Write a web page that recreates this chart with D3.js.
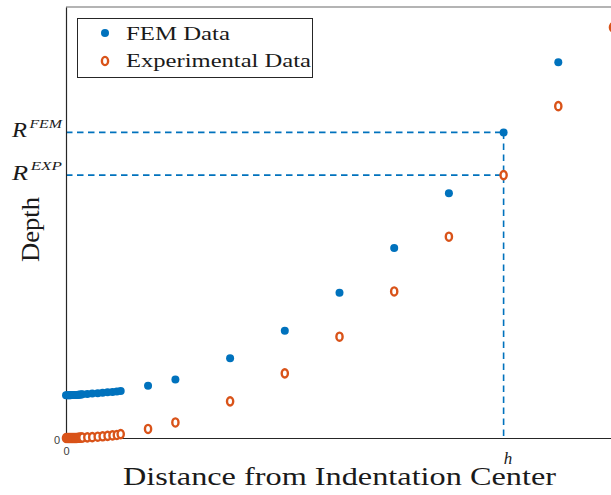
<!DOCTYPE html>
<html>
<head>
<meta charset="utf-8">
<script src="https://cdn.jsdelivr.net/npm/d3@7"></script>
<style>
  html, body { margin: 0; padding: 0; background: #fff; }
  svg { display: block; }
</style>
</head>
<body>
<svg id="chart" width="611" height="495"></svg>
<script>
// Radial distance from the indentation center (shared by both series)
const distance = [0, 0.02, 0.04, 0.06, 0.08, 0.10, 0.12, 0.14, 0.16, 0.18, 0.20, 0.22,
  0.24, 0.26, 0.28, 0.30, 0.39, 0.48, 0.58, 0.67, 0.76, 0.85, 0.93, 1.0,
  1.5, 2, 3, 4, 5, 6, 7, 8, 9, 10];

// Simulated depth profile
const femDepth = [0.99, 0.99, 0.99, 0.99, 0.99, 0.995, 0.995, 0.995, 1.0, 1.0, 1.0, 1.005,
  1.005, 1.01, 1.01, 1.015, 1.02, 1.03, 1.04, 1.05, 1.06, 1.07, 1.08, 1.09,
  1.21, 1.36, 1.85, 2.49, 3.37, 4.41, 5.68, 7.09, 8.72];

// Measured depth profile
const expDepth = [0, 0, 0, 0, 0, 0, 0, 0, 0, 0, 0, 0.005,
  0.005, 0.01, 0.01, 0.01, 0.015, 0.02, 0.03, 0.04, 0.05, 0.06, 0.07, 0.09,
  0.21, 0.36, 0.85, 1.50, 2.35, 3.40, 4.67, 6.10, 7.70, 9.53];

// Reference position h and the depths read there
const hDistance = 8;
const rFem = 7.09;
const rExp = 6.10;

const xTickValues = [0, hDistance];
const xTickLabels = ["0", "h"];
const yTickValues = [0, rExp, rFem];
const yTickLabels = [["0", ""], ["R", "EXP"], ["R", "FEM"]];

const seriesNames = ["FEM Data", "Experimental Data"];

const BLUE = "#0072BD";
const ORANGE = "#D95319";
const TEXT = "#1a1a1a";
const SERIF = "'Liberation Serif', 'Times New Roman', serif";
const SANS = "'Liberation Sans', Arial, sans-serif";

const svg = d3.select("#chart");

const x = d3.scaleLinear().domain([0, 11]).range([66, 667.7]);
const y = d3.scaleLinear().domain([0, 10]).range([438, 7]);

// Box: grey top edge
svg.append("line")
  .attr("x1", 66).attr("x2", 700)
  .attr("y1", 7).attr("y2", 7)
  .attr("stroke", "#9b9b9b").attr("stroke-width", 1.6);

// Guide lines marking h, R^FEM and R^EXP
const dash = "6.5,4.5";
const guides = svg.append("g")
  .attr("stroke", BLUE).attr("stroke-width", 1.6)
  .attr("stroke-dasharray", dash).attr("fill", "none");
guides.append("line")
  .attr("x1", x(0)).attr("x2", x(hDistance))
  .attr("y1", y(rFem)).attr("y2", y(rFem));
guides.append("line")
  .attr("x1", x(0)).attr("x2", x(hDistance))
  .attr("y1", y(rExp)).attr("y2", y(rExp));
guides.append("line")
  .attr("x1", x(hDistance)).attr("x2", x(hDistance))
  .attr("y1", y(rFem)).attr("y2", y(0));

// Axes
const xAxis = d3.axisBottom(x)
  .tickValues(xTickValues)
  .tickSizeInner(0).tickSizeOuter(0)
  .tickPadding(8)
  .tickFormat((d, i) => xTickLabels[i]);
const gx = svg.append("g")
  .attr("transform", `translate(0,${y(0)})`)
  .call(xAxis);
gx.select(".domain").attr("stroke", "#262626").attr("stroke-width", 1.2);
gx.selectAll(".tick text")
  .attr("fill", TEXT)
  .each(function (d, i) {
    const t = d3.select(this);
    if (i === 0) {
      t.style("font-family", SANS).style("font-size", "11px").attr("fill", "#404040")
        .attr("dy", "0.71em").attr("y", 9);
    } else {
      t.style("font-family", SERIF).style("font-size", "17px").style("font-style", "italic")
        .attr("dx", 4).attr("y", 14).attr("dy", "0.71em");
    }
  });

const yAxis = d3.axisLeft(y)
  .tickValues(yTickValues)
  .tickSizeInner(0).tickSizeOuter(0)
  .tickPadding(5)
  .tickFormat(() => "");
const gy = svg.append("g")
  .attr("transform", `translate(${x(0)},0)`)
  .call(yAxis);
gy.select(".domain").attr("stroke", "#262626").attr("stroke-width", 1.2);
gy.selectAll(".tick text").each(function (d, i) {
  const t = d3.select(this);
  const [base, sup] = yTickLabels[i];
  if (!sup) {
    t.text(base).style("font-family", SANS).style("font-size", "11px")
      .attr("fill", "#404040").attr("x", -6).attr("y", 2).attr("dy", "0.35em");
  } else {
    t.attr("x", -4).attr("dy", "0.4em").attr("fill", TEXT)
      .attr("textLength", 50).attr("lengthAdjust", "spacingAndGlyphs")
      .style("font-family", SERIF).style("font-style", "italic");
    t.append("tspan").text(base).style("font-size", "20px");
    t.append("tspan").text(sup).style("font-size", "13px")
      .attr("dy", "-0.7em").attr("dx", "2");
  }
});

// Axis titles
svg.append("text")
  .attr("x", 123).attr("y", 485)
  .attr("textLength", 433).attr("lengthAdjust", "spacingAndGlyphs")
  .style("font-family", SERIF).style("font-size", "25px")
  .attr("fill", TEXT)
  .text("Distance from Indentation Center");

svg.append("text")
  .attr("transform", "translate(39,262) rotate(-90)")
  .attr("textLength", 65).attr("lengthAdjust", "spacingAndGlyphs")
  .style("font-family", SERIF).style("font-size", "25px")
  .attr("fill", TEXT)
  .text("Depth");

// Markers
const blueDot = (sel) => sel.attr("r", 4).attr("fill", BLUE);
const orangeRing = (sel) => sel.attr("rx", 3.1).attr("ry", 4.1)
  .attr("fill", "#fff").attr("stroke", ORANGE).attr("stroke-width", 2.4);

svg.append("g").selectAll("circle")
  .data(femDepth)
  .join("circle")
  .attr("cx", (d, i) => x(distance[i]))
  .attr("cy", d => y(d))
  .call(blueDot);

svg.append("g").selectAll("ellipse")
  .data(expDepth)
  .join("ellipse")
  .attr("cx", (d, i) => x(distance[i]))
  .attr("cy", d => y(d))
  .call(orangeRing);

// Legend
const legend = svg.append("g");
legend.append("rect")
  .attr("x", 77.5).attr("y", 18.5).attr("width", 235).attr("height", 59)
  .attr("fill", "#fff").attr("stroke", "#262626").attr("stroke-width", 1);
legend.append("circle").attr("cx", 105).attr("cy", 33).call(blueDot);
legend.append("ellipse").attr("cx", 105).attr("cy", 61).call(orangeRing);
const legendWidths = [104, 185];
legend.selectAll("text")
  .data(seriesNames)
  .join("text")
  .attr("x", 126)
  .attr("y", (d, i) => 40 + i * 27)
  .attr("textLength", (d, i) => legendWidths[i])
  .attr("lengthAdjust", "spacingAndGlyphs")
  .style("font-family", SERIF).style("font-size", "19px")
  .attr("fill", TEXT)
  .text(d => d);
</script>
</body>
</html>
